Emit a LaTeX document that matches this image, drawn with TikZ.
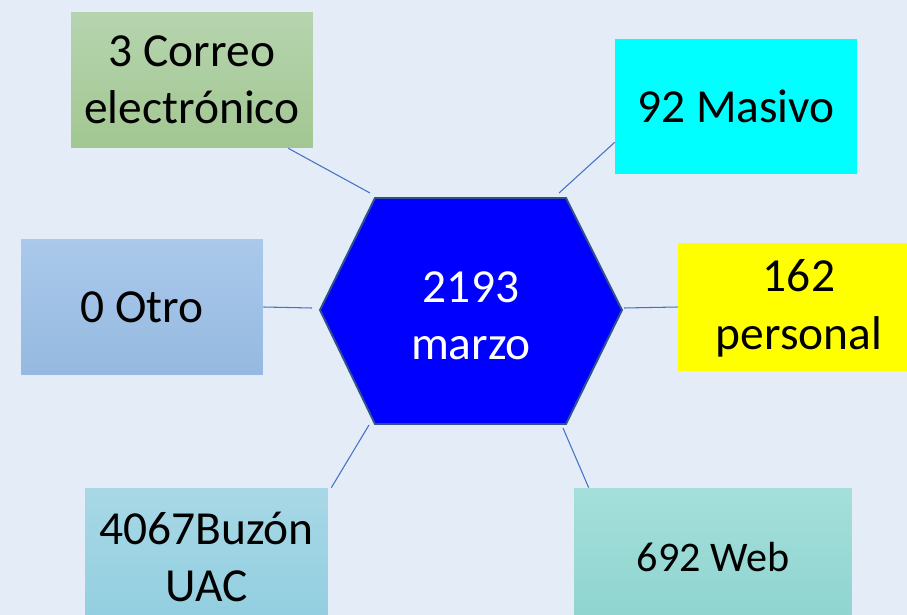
\documentclass[tikz,border=0pt]{standalone}
\usepackage{fontspec}
\setmainfont{Carlito}
\definecolor{fondo}{RGB}{228,236,248}
\definecolor{enlace}{RGB}{68,114,196}
\definecolor{borde}{RGB}{47,82,143}
\definecolor{cian}{RGB}{0,255,255}
\definecolor{amarillo}{RGB}{255,255,0}
\tikzset{
  caja/.style={inner sep=0pt,minimum width=4.84cm,minimum height=2.72cm,
    font=\fontsize{27}{32.5}\selectfont},
  link/.style={draw=enlace,line width=0.6pt}
}
\begin{document}
\begin{tikzpicture}[x=0.02cm,y=-0.02cm,every text node part/.style={align=center}]

    % --------------------------------------------------------- %
    % ------------- background
    % --------------------------------------------------------- %
    \clip (0,0) rectangle (907,615);
    \fill[fondo] (0,0) rectangle (907,615);

    % --------------------------------------------------------- %
    % ------------- central hexagon (month)
    % --------------------------------------------------------- %
    \filldraw[fill=blue,draw=borde,line width=1.1pt]
      (320,310) -- (375,198) -- (566,198) -- (622,310) -- (566,424) -- (375,424) -- cycle;
    \node[font=\fontsize{27}{32.5}\selectfont,text=white] (mes) at (471,316) {2193\\marzo};

    % --------------------------------------------------------- %
    % ------------ channels
    % --------------------------------------------------------- %
    \node[caja,top color={rgb,255:red,182;green,212;blue,175},bottom color={rgb,255:red,162;green,199;blue,145}] (correo) at (192,80) {3 Correo\\electrónico};
    \node[caja,fill=cian,minimum height=2.7cm] (masivo) at (736,106.5) {92 Masivo};
    \node[caja,top color={rgb,255:red,170;green,201;blue,235},bottom color={rgb,255:red,149;green,185;blue,224}] (otro) at (142,307) {0 Otro};
    \node[caja,fill=amarillo,minimum height=2.56cm,text depth=0.1cm] (personal) at (799,307) {162\\personal};
    \node[caja,top color={rgb,255:red,168;green,216;blue,230},bottom color={rgb,255:red,145;green,206;blue,224},minimum width=4.86cm,minimum height=2.76cm] (buzon) at (206.5,557) {4067Buzón\\UAC};
    \node[caja,top color={rgb,255:red,164;green,223;blue,219},bottom color={rgb,255:red,142;green,212;blue,207},minimum width=5.56cm,minimum height=2.76cm,font=\fontsize{24}{29}\selectfont] (web) at (713,557) {692 Web};

    % --------------------------------------------------------- %
    % ------------ connectors
    % --------------------------------------------------------- %
    \coordinate (cCorreo) at (370,193);
    \coordinate (cMasivo) at (559,193);
    \coordinate (cOtro) at (312,308);
    \coordinate (cPersonal) at (624,308);
    \coordinate (cBuzon) at (369,425);
    \coordinate (cWeb) at (563,428);

    \draw[link] ([xshift=-0.5cm]correo.south east) -- (cCorreo);
    \draw[link] ([yshift=0.64cm]masivo.south west) -- (cMasivo);
    \draw[link] (otro.east) -- (cOtro);
    \draw[link] (cPersonal) -- (personal.west);
    \draw[link] ([xshift=0.06cm]buzon.north east) -- (cBuzon);
    \draw[link] ([xshift=0.3cm]web.north west) -- (cWeb);

  \end{tikzpicture}
\end{document}
